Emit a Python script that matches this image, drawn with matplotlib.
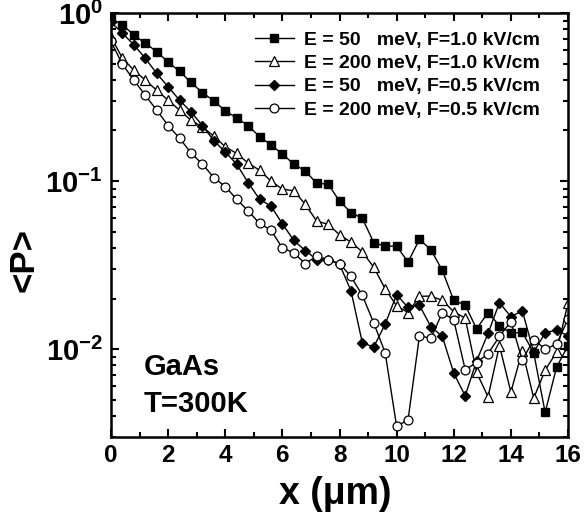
import matplotlib
matplotlib.use("Agg")
import matplotlib.pyplot as plt
import numpy as np
from matplotlib.ticker import FuncFormatter, MultipleLocator, LogLocator

plt.rcParams['font.family'] = ['Liberation Sans', 'DejaVu Sans']
plt.rcParams['font.weight'] = 'bold'
plt.rcParams['mathtext.fontset'] = 'custom'
plt.rcParams['mathtext.bf'] = 'Liberation Sans:bold'
plt.rcParams['mathtext.rm'] = 'Liberation Sans:bold'

# positions along x (um), 0.4 um step
x = np.round(np.arange(41) * 0.4, 1)

p_50_10 = [0.93, 0.85, 0.74, 0.66, 0.59, 0.51, 0.45, 0.386, 0.336, 0.30,
           0.262, 0.237, 0.214, 0.184, 0.164, 0.145, 0.126, 0.115, 0.097, 0.096,
           0.076, 0.065, 0.060, 0.043, 0.041, 0.041, 0.033, 0.045, 0.039, 0.0294,
           0.0195, 0.0183, 0.0132, 0.0165, 0.0138, 0.0124, 0.0126, 0.0095, 0.0042, 0.0078,
           0.0105]
p_200_10 = [0.72, 0.538, 0.457, 0.399, 0.347, 0.303, 0.264, 0.230, 0.210, 0.185,
            0.160, 0.146, 0.128, 0.116, 0.100, 0.0896, 0.0875, 0.0728, 0.0578, 0.0553,
            0.048, 0.0433, 0.0379, 0.0307, 0.0228, 0.0181, 0.0165, 0.0206, 0.0207, 0.0195,
            0.0167, 0.0153, 0.00728, 0.0052, 0.0105, 0.00555, 0.0098, 0.0051, 0.0075, 0.0096,
            0.0188]
p_50_05 = [0.88, 0.759, 0.646, 0.538, 0.437, 0.364, 0.303, 0.258, 0.214, 0.174,
           0.149, 0.126, 0.098, 0.078, 0.0709, 0.0557, 0.0443, 0.0386, 0.0341, 0.0341,
           0.032, 0.0223, 0.0109, 0.0103, 0.0141, 0.0211, 0.0177, 0.0182, 0.0136, 0.0119,
           0.0072, 0.00527, 0.0085, 0.0124, 0.0189, 0.0156, 0.0169, 0.0096, 0.0125, 0.0130,
           0.012]
p_200_05 = [0.677, 0.495, 0.399, 0.324, 0.264, 0.214, 0.180, 0.147, 0.126, 0.105,
            0.0927, 0.078, 0.0664, 0.056, 0.051, 0.040, 0.0374, 0.0323, 0.0357, 0.0341,
            0.0323, 0.0271, 0.0209, 0.0143, 0.0095, 0.00347, 0.0038, 0.0120, 0.0116, 0.0165,
            0.0149, 0.00756, 0.0083, 0.0094, 0.0119, 0.0146, 0.0086, 0.0114, 0.0100, 0.0107,
            0.0151]

labels = ["E = 50   meV, F=1.0 kV/cm",
          "E = 200 meV, F=1.0 kV/cm",
          "E = 50   meV, F=0.5 kV/cm",
          "E = 200 meV, F=0.5 kV/cm"]

fig = plt.figure(figsize=(5.86, 5.16), dpi=100)
ax = fig.add_axes([111/586, 79/516, 457/586, 424/516])

ms = 5.6
ax.plot(x, p_50_10, '-s', color='k', lw=1.0, ms=ms, mfc='k', mec='k', label=labels[0])
ax.plot(x, p_200_10, '-^', color='k', lw=1.0, ms=ms+1, mfc='white', mec='k', mew=0.9, label=labels[1])
ax.plot(x, p_50_05, '-D', color='k', lw=1.0, ms=ms, mfc='k', mec='k', label=labels[2])
ax.plot(x, p_200_05, '-o', color='k', lw=1.0, ms=ms+0.8, mfc='white', mec='k', mew=0.9, label=labels[3])

ax.set_yscale('log')
ax.set_xlim(0, 16)
ax.set_ylim(0.003, 1)

ax.xaxis.set_major_locator(MultipleLocator(2))
ax.xaxis.set_minor_locator(MultipleLocator(1))
ax.yaxis.set_major_locator(LogLocator(base=10))
ax.yaxis.set_minor_locator(LogLocator(base=10, subs=np.arange(2, 10)))
ax.yaxis.set_major_formatter(FuncFormatter(lambda v, p: r"$\mathbf{10^{%d}}$" % round(np.log10(v))))
ax.yaxis.set_minor_formatter(FuncFormatter(lambda v, p: ""))

ax.tick_params(which='both', direction='in', top=True, right=True, width=1.5)
ax.tick_params(which='major', length=6)
ax.tick_params(which='minor', length=3.5)
ax.tick_params(axis='x', which='major', labelsize=17.5, pad=5)
ax.tick_params(axis='y', which='major', labelsize=21, pad=6)
for s in ax.spines.values():
    s.set_linewidth(1.8)

fig.text(335/586, 1 - 494/516, "x (μm)", fontsize=27, fontweight='bold', ha='center', va='center')
fig.text(24/586, 1 - 260/516, "<P>", fontsize=25, fontweight='bold', rotation=90, ha='center', va='center')

ax.text(0.072, 0.197, "GaAs", transform=ax.transAxes, fontsize=21, fontweight='bold', va='top')
ax.text(0.072, 0.112, "T=300K", transform=ax.transAxes, fontsize=21, fontweight='bold', va='top')

leg = ax.legend(loc='upper left', bbox_to_anchor=(255/586, 1 - 31/516), bbox_transform=fig.transFigure,
                frameon=False, fontsize=14, handlelength=2.0, handletextpad=0.5,
                labelspacing=0.3, borderpad=0, borderaxespad=0, numpoints=1)

fig.savefig("out.png", dpi=100)
